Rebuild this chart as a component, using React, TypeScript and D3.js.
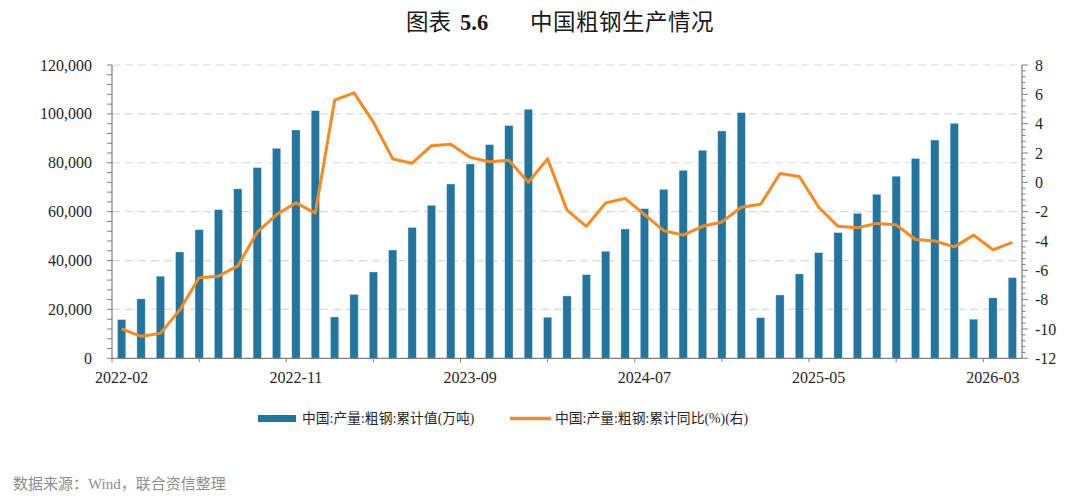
import React, { useEffect, useRef } from "react";
import * as d3 from "d3";

// monthly categories (Jan is merged into Feb, so it never appears)
const months = [
  "2022-02", "2022-03", "2022-04", "2022-05", "2022-06", "2022-07", "2022-08", "2022-09", "2022-10", "2022-11", "2022-12",
  "2023-02", "2023-03", "2023-04", "2023-05", "2023-06", "2023-07", "2023-08", "2023-09", "2023-10", "2023-11", "2023-12",
  "2024-02", "2024-03", "2024-04", "2024-05", "2024-06", "2024-07", "2024-08", "2024-09", "2024-10", "2024-11", "2024-12",
  "2025-02", "2025-03", "2025-04", "2025-05", "2025-06", "2025-07", "2025-08", "2025-09", "2025-10", "2025-11", "2025-12",
  "2026-02", "2026-03", "2026-04",
];

// cumulative crude steel output, 10k tonnes
const output = [
  15800, 24300, 33600, 43500, 52600, 60800, 69300, 78000, 85900, 93400, 101300,
  16900, 26100, 35300, 44300, 53500, 62600, 71300, 79500, 87400, 95200, 101900,
  16800, 25500, 34200, 43800, 52900, 61200, 69100, 76900, 85100, 93000, 100500,
  16600, 25900, 34500, 43200, 51400, 59300, 67100, 74500, 81700, 89300, 96100,
  16000, 24700, 33000,
];

// cumulative YoY change, %
const growth = [
  -10.0, -10.5, -10.3, -8.7, -6.5, -6.4, -5.7, -3.4, -2.2, -1.4, -2.1,
  5.6, 6.1, 4.1, 1.6, 1.3, 2.5, 2.6, 1.7, 1.4, 1.5, 0.0,
  1.6, -1.9, -3.0, -1.4, -1.1, -2.2, -3.3, -3.6, -3.0, -2.7, -1.7,
  -1.5, 0.6, 0.4, -1.7, -3.0, -3.1, -2.8, -2.9, -3.9, -4.0, -4.4,
  -3.6, -4.6, -4.1,
];

const leftTicks = [0, 20000, 40000, 60000, 80000, 100000, 120000];
const rightTicks = [-12, -10, -8, -6, -4, -2, 0, 2, 4, 6, 8];
const xLabelStep = 9;

const BAR = "#22759f";
const LINE = "#f88a1e";
const AXIS = "#7f7f7f";
const GRID = "#d9d9d9";
const SERIF = "'Liberation Serif', 'Times New Roman', 'Noto Sans CJK SC', serif";
const CJK = "'Liberation Serif', 'Noto Sans CJK SC', serif";

export default function App() {
  const ref = useRef<SVGSVGElement>(null);

  useEffect(() => {
    const width = 1080;
    const height = 499;
    const left = 112;
    const right = 1022;
    const top = 65;
    const bottom = 358.3;

    const svg = d3.select(ref.current);
    svg.selectAll("*").remove();
    svg.attr("width", width).attr("height", height);

    const x = d3.scaleBand<string>().domain(months).range([left, right]).padding(0);
    const bw = x.bandwidth();
    const yL = d3.scaleLinear().domain([0, 120000]).range([bottom, top]);
    const yR = d3.scaleLinear().domain([-12, 8]).range([bottom, top]);

    // title
    const title = svg.append("g").attr("font-size", 22.5).attr("fill", "#1a1a1a");
    title.append("text").attr("x", 406).attr("y", 30).attr("font-family", CJK).text("图表");
    title
      .append("text")
      .attr("x", 460)
      .attr("y", 30)
      .attr("font-family", SERIF)
      .attr("font-weight", "bold")
      .text("5.6");
    title.append("text").attr("x", 530).attr("y", 30).attr("font-family", CJK).attr("letter-spacing", 0.5).text("中国粗钢生产情况");

    // dashed grid
    svg
      .append("g")
      .selectAll("line")
      .data(leftTicks.filter(d => d > 0))
      .enter()
      .append("line")
      .attr("x1", left)
      .attr("x2", right)
      .attr("y1", d => yL(d))
      .attr("y2", d => yL(d))
      .attr("stroke", GRID)
      .attr("stroke-width", 1.2)
      .attr("stroke-dasharray", "8,5");

    // bars
    const barW = 8.2;
    svg
      .append("g")
      .selectAll("rect")
      .data(output)
      .enter()
      .append("rect")
      .attr("x", (d, i) => (x(months[i]) as number) + bw / 2 - barW / 2)
      .attr("y", d => yL(d))
      .attr("width", barW)
      .attr("height", d => bottom - yL(d))
      .attr("fill", BAR)
      .attr("stroke", "#cfe0ea")
      .attr("stroke-width", 0.4);

    // yoy line
    const line = d3
      .line<number>()
      .x((d, i) => (x(months[i]) as number) + bw / 2)
      .y(d => yR(d));
    svg
      .append("path")
      .datum(growth)
      .attr("d", line)
      .attr("fill", "none")
      .attr("stroke", LINE)
      .attr("stroke-width", 3)
      .attr("stroke-linejoin", "round");

    // axes lines
    const axes = svg.append("g").attr("stroke", AXIS).attr("stroke-width", 1.2);
    axes.append("line").attr("x1", left).attr("x2", left).attr("y1", top).attr("y2", bottom);
    axes.append("line").attr("x1", right).attr("x2", right).attr("y1", top).attr("y2", bottom);
    axes.append("line").attr("x1", left).attr("x2", right).attr("y1", bottom).attr("y2", bottom);

    // left ticks, major + minor
    const leftMinor = d3.range(0, 120001, 4000);
    axes
      .append("g")
      .selectAll("line")
      .data(leftMinor)
      .enter()
      .append("line")
      .attr("x1", left - 5)
      .attr("x2", left)
      .attr("y1", d => yL(d))
      .attr("y2", d => yL(d))
      .attr("stroke-width", 1);

    // right ticks, major + minor
    const rightMinor = d3.range(-12, 8.01, 0.4);
    axes
      .append("g")
      .selectAll("line")
      .data(rightMinor)
      .enter()
      .append("line")
      .attr("x1", right)
      .attr("x2", d => (Math.abs(d / 2 - Math.round(d / 2)) < 0.01 ? right + 6 : right + 3.5))
      .attr("y1", d => yR(d))
      .attr("y2", d => yR(d))
      .attr("stroke-width", 1);

    // x ticks every half label step
    const xTicks = d3.range(0, months.length - 1, xLabelStep / 2);
    axes
      .append("g")
      .selectAll("line")
      .data(xTicks)
      .enter()
      .append("line")
      .attr("x1", d => left + d * bw)
      .attr("x2", d => left + d * bw)
      .attr("y1", bottom)
      .attr("y2", bottom + 4)
      .attr("stroke-width", 1);

    const labels = svg.append("g").attr("font-family", SERIF).attr("font-size", 16).attr("fill", "#262626");

    labels
      .append("g")
      .selectAll("text")
      .data(leftTicks)
      .enter()
      .append("text")
      .attr("x", 92)
      .attr("y", d => yL(d))
      .attr("dy", "0.35em")
      .attr("text-anchor", "end")
      .text(d => d3.format(",")(d));

    labels
      .append("g")
      .selectAll("text")
      .data(rightTicks)
      .enter()
      .append("text")
      .attr("x", 1035)
      .attr("y", d => yR(d))
      .attr("dy", "0.35em")
      .text(d => String(d));

    labels
      .append("g")
      .selectAll("text")
      .data(months.filter((m, i) => i % xLabelStep === 0))
      .enter()
      .append("text")
      .attr("x", d => (x(d) as number) + bw / 2)
      .attr("y", 383)
      .attr("text-anchor", "middle")
      .text(d => d);

    // legend
    const legend = svg.append("g").attr("font-family", CJK).attr("font-size", 13.8).attr("fill", "#262626");
    legend.append("rect").attr("x", 258).attr("y", 415).attr("width", 38).attr("height", 7).attr("fill", BAR);
    legend.append("text").attr("x", 302).attr("y", 423).text("中国:产量:粗钢:累计值(万吨)");
    legend
      .append("line")
      .attr("x1", 510)
      .attr("x2", 551)
      .attr("y1", 418.5)
      .attr("y2", 418.5)
      .attr("stroke", LINE)
      .attr("stroke-width", 3.5);
    legend.append("text").attr("x", 555).attr("y", 423).text("中国:产量:粗钢:累计同比(%)(右)");

    // source note
    svg
      .append("text")
      .attr("x", 13)
      .attr("y", 489)
      .attr("font-family", CJK)
      .attr("font-size", 15)
      .attr("fill", "#8c8c8c")
      .text("数据来源：Wind，联合资信整理");
  }, []);

  return <svg ref={ref} style={{ position: "absolute", left: 0, top: 0 }}></svg>;
}
